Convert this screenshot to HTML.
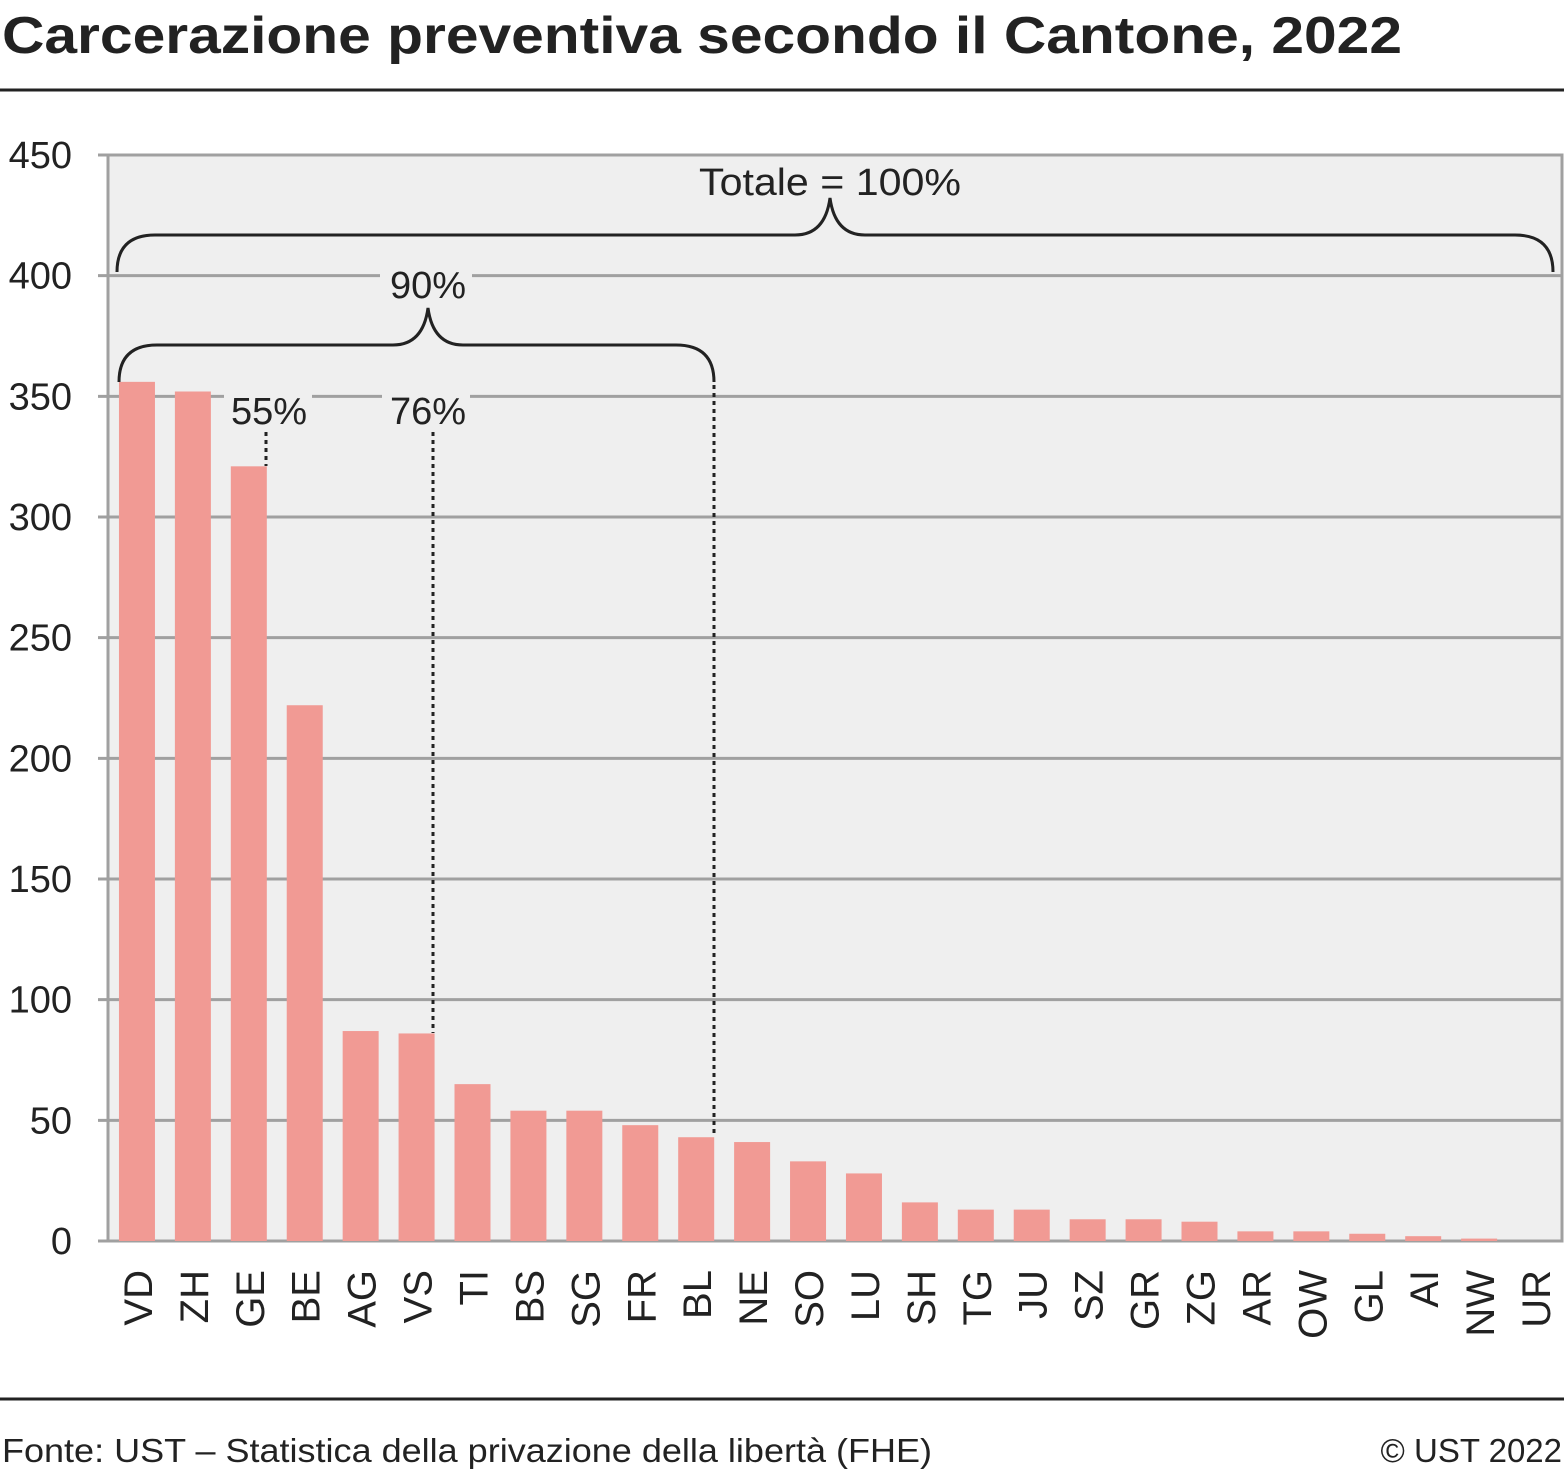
<!DOCTYPE html>
<html><head><meta charset="utf-8"><style>
body{margin:0;background:#fff;}
svg text{font-family:"Liberation Sans",sans-serif;fill:#222;}
</style></head><body>
<svg id="chart" width="1564" height="1472" viewBox="0 0 1564 1472" xmlns="http://www.w3.org/2000/svg">
<text x="2" y="53" font-size="52" font-weight="bold" fill="#111" textLength="1400" lengthAdjust="spacingAndGlyphs">Carcerazione preventiva secondo il Cantone, 2022</text>
<line x1="0" y1="90" x2="1564" y2="90" stroke="#222" stroke-width="3"/>
<rect x="108" y="155" width="1454" height="1086" fill="#efefef" stroke="#a0a0a0" stroke-width="3"/>
<g id="grid"></g><g id="bars"></g><g id="xlabels"></g>
<g id="annot" fill="none" stroke="#222" stroke-width="3">
<rect x="695" y="160" width="270" height="42" fill="#efefef" stroke="none"/>
<rect x="380" y="262" width="92" height="44" fill="#efefef" stroke="none"/>
<rect x="224" y="385" width="88" height="44" fill="#efefef" stroke="none"/>
<rect x="382" y="385" width="88" height="44" fill="#efefef" stroke="none"/>
<path d="M117 272 Q117 235 155 235 L795 235 Q825 235 830 198 Q835 235 865 235 L1515 235 Q1553 235 1553 272"/>
<path d="M119 382 Q119 345 157 345 L393 345 Q423 345 428 308 Q433 345 463 345 L676 345 Q714 345 714 382"/>
<line x1="266" y1="432" x2="266" y2="466" stroke-dasharray="4 4"/>
<line x1="433" y1="432" x2="433" y2="1033" stroke-dasharray="4 4"/>
<line x1="714" y1="385" x2="714" y2="1137" stroke-dasharray="4 4"/>
</g>
<text x="830" y="195" font-size="38" text-anchor="middle" textLength="262" lengthAdjust="spacingAndGlyphs">Totale = 100%</text>
<text x="428" y="298" font-size="38" text-anchor="middle">90%</text>
<text x="269" y="424" font-size="38" text-anchor="middle">55%</text>
<text x="428" y="424" font-size="38" text-anchor="middle">76%</text>
<line x1="0" y1="1399" x2="1564" y2="1399" stroke="#222" stroke-width="3"/>
<text x="2" y="1462" font-size="33" textLength="930" lengthAdjust="spacingAndGlyphs">Fonte: UST – Statistica della privazione della libertà (FHE)</text>
<text x="1562" y="1462" font-size="33" text-anchor="end">© UST 2022</text>
</svg>
<script>
const categories=["VD","ZH","GE","BE","AG","VS","TI","BS","SG","FR","BL","NE","SO","LU","SH","TG","JU","SZ","GR","ZG","AR","OW","GL","AI","NW","UR"];
const values=[356,352,321,222,87,86,65,54,54,48,43,41,33,28,16,13,13,9,9,8,4,4,3,2,1,0];
const yTicks=[0,50,100,150,200,250,300,350,400,450];
const NS="http://www.w3.org/2000/svg";
const x0=108,x1=1562,y0=1241,y1=155,yMax=450;
const band=(x1-x0)/categories.length,bw=36;
function y(v){return y0-(v/yMax)*(y0-y1);}
function xc(i){return x0+1+band*(i+0.5);}
function mk(tag,attrs,parent){const e=document.createElementNS(NS,tag);for(const k in attrs)e.setAttribute(k,attrs[k]);parent.appendChild(e);return e;}
const grid=document.getElementById('grid'),bars=document.getElementById('bars'),xl=document.getElementById('xlabels');
yTicks.forEach(t=>{
  const l=mk('line',{x1:98,x2:x1,y1:y(t),y2:y(t),stroke:'#a0a0a0','stroke-width':3},grid);
  
  
  const tx=mk('text',{x:72,y:y(t)+13,'font-size':38,'text-anchor':'end'},grid);
  tx.textContent=t;
  
  
});
categories.forEach((c,i)=>{
  const r=mk('rect',{x:xc(i)-bw/2,y:y(values[i]),width:bw,height:y0-y(values[i]),fill:'#f19a94'},bars);
  
  
  const cx=xc(i)+15,cy=1270;
  const t=mk('text',{x:cx,y:cy,'font-size':40,'text-anchor':'end',transform:'rotate(-90 '+cx+' '+cy+')'},xl);
  t.textContent=c;
  
  
});
</script>
</body></html>
